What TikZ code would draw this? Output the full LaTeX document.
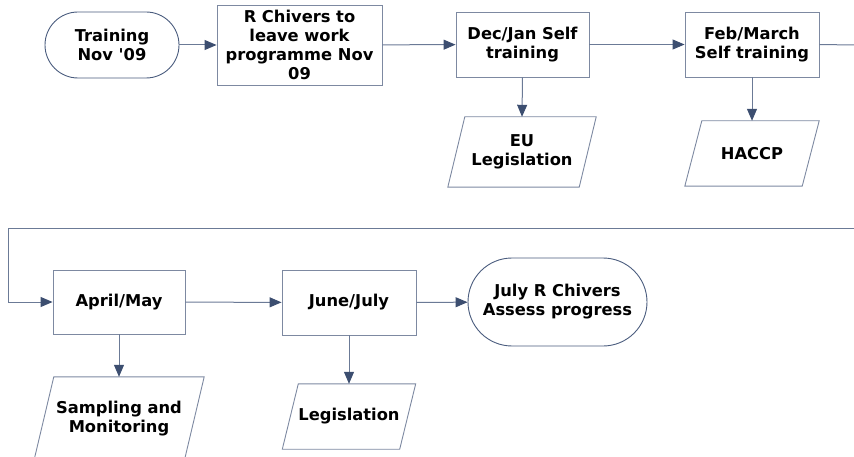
\documentclass[tikz,border=0pt]{standalone}
\usepackage{fontspec}
\newfontfamily\dejav{DejaVu Sans}
\usetikzlibrary{arrows.meta,calc}
\definecolor{linec}{HTML}{6B7A96}
\definecolor{arrc}{HTML}{3C4E70}
\definecolor{boxc}{HTML}{7D89A1}
\definecolor{termc}{HTML}{4A5C7E}
\tikzset{
  txt/.style={font=\dejav\fontsize{16.3}{19}\selectfont\bfseries, align=center, text=black},
  procbox/.style={txt, draw=boxc, line width=0.9pt, inner sep=0pt},
  termbox/.style={txt, draw=termc, line width=0.9pt, inner sep=0pt},
  pbox/.style={txt, inner sep=0pt},
  conn/.style={draw=linec, line width=1pt},
  arr/.style={conn, -{Triangle[length=12pt,width=10pt,fill=arrc,color=arrc]}},
}
\newcommand\paralnode[7]{%
  \node[pbox, minimum width=#4, minimum height=#5] (#1) at (#2,#3) {#7};
  \draw[draw=boxc, line width=0.9pt]
    ([xshift=#6/2]#1.north west) -- ([xshift=#6/2]#1.north east) --
    ([xshift=-#6/2]#1.south east) -- ([xshift=-#6/2]#1.south west) -- cycle;
}
\begin{document}
\begin{tikzpicture}[x=1pt,y=-1pt]
\useasboundingbox (0,0) rectangle (854,457);
% row 1
\node[termbox, minimum width=134pt, minimum height=66pt, rounded corners=33pt] (t1) at (112,45) {Training\\Nov '09};
\node[procbox, minimum width=165pt, minimum height=80pt] (b2) at (299.5,45) {R Chivers to\\leave work\\programme Nov\\09};
\node[procbox, minimum width=133pt, minimum height=65pt] (b3) at (522.5,44.5) {Dec/Jan Self\\training};
\node[procbox, minimum width=134pt, minimum height=65pt] (b4) at (752,44.5) {Feb/March\\Self training};
\paralnode{eu}{522}{152}{131pt}{70pt}{17pt}{EU\\Legislation}
\paralnode{haccp}{752}{153.5}{117pt}{65pt}{17pt}{HACCP}
% row 2
\node[procbox, minimum width=132pt, minimum height=64pt] (am) at (119,302) {April/May};
\node[procbox, minimum width=134pt, minimum height=65pt] (jj) at (349,302.5) {June/July};
\node[termbox, minimum width=179pt, minimum height=88pt, rounded corners=44pt] (t2) at (557.5,302) {July R Chivers\\Assess progress};
\paralnode{samp}{119}{419}{150pt}{84pt}{20pt}{Sampling and\\Monitoring}
\paralnode{leg}{349}{416.5}{117pt}{65pt}{16pt}{Legislation}
% connectors
\coordinate (r1) at (854,45);
\coordinate (r2) at (854,228.5);
\coordinate (l2) at (8,228.5);
\draw[arr] (t1) -- (b2);
\draw[arr] (b2) -- (b3);
\draw[arr] (b3) -- (b4);
\draw[conn] (b4.east) -- (r1);
\draw[arr] (b3.south) -- (eu.north);
\draw[arr] (b4.south) -- (haccp.north);
\draw[arr] (r2) -- (l2) |- (am.west);
\draw[arr] (am) -- (jj);
\draw[arr] (jj) -- (t2);
\draw[arr] (am.south) -- (samp.north);
\draw[arr] (jj.south) -- (leg.north);
\end{tikzpicture}
\end{document}
